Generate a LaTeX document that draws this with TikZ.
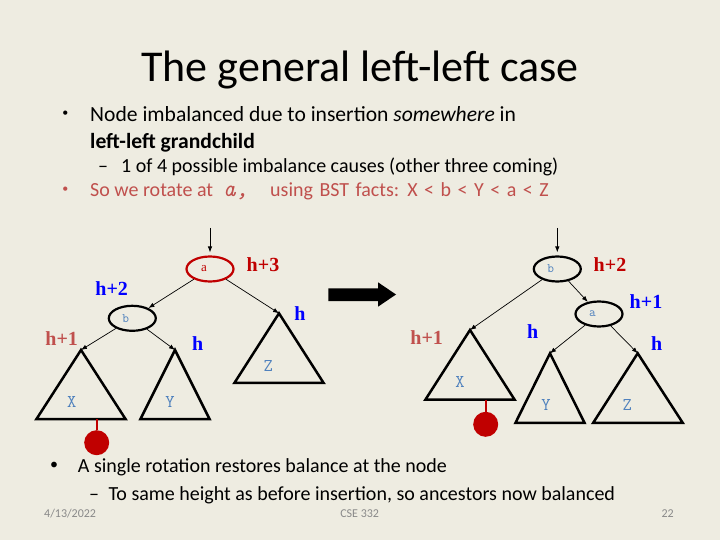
\documentclass[tikz,border=0pt]{standalone}
\usepackage{fontspec}
\setmainfont{Carlito}
\newfontfamily\hfont{Liberation Serif}
\usetikzlibrary{calc,positioning,shapes.geometric,arrows.meta}
\definecolor{slidebg}{RGB}{238,236,225}
\definecolor{darkred}{RGB}{192,0,0}
\definecolor{softred}{RGB}{192,80,77}
\definecolor{hblue}{RGB}{0,0,255}
\definecolor{keyblue}{RGB}{79,129,189}
\definecolor{footgray}{RGB}{137,137,137}

\begin{document}
\begin{tikzpicture}[x=1pt,y=-1pt,
  key/.style={draw, ellipse, line width=2.2pt, minimum width=47pt, minimum height=25pt, inner sep=0pt},
  keytext/.style={inner sep=0pt, text=keyblue, font=\ttfamily\fontsize{13}{13}\selectfont},
  leaf/.style={inner sep=0pt, text=keyblue, font=\ttfamily\fontsize{18}{18}\selectfont},
  tri/.style={line width=2.5pt},
  edge/.style={-{Latex[length=6pt,width=4.5pt]}, line width=0.7pt},
  ht/.style={inner sep=0pt, font=\hfont\bfseries\fontsize{20}{20}\selectfont},
  ins/.style={circle, fill=darkred, minimum size=25pt, inner sep=0pt},
  stem/.style={darkred, line width=2pt},
  body/.style={anchor=base west, inner sep=0pt, font=\fontsize{21.6}{26}\selectfont},
  sub/.style={anchor=base west, inner sep=0pt, font=\fontsize{20}{24}\selectfont},
  bullet/.style={inner sep=0pt, font=\fontsize{12}{12}\selectfont},
  foot/.style={inner sep=0pt, text=footgray, font=\fontsize{12}{12}\selectfont}]
\fill[slidebg] (0,0) rectangle (720,540);
\useasboundingbox (0,0) rectangle (720,540);

% Title and top bullets
\node[anchor=base, inner sep=0pt, font=\fontsize{44}{44}\selectfont] (title) at (360,81.7) {The general left-left case};
\node[bullet] (dot1) at (65.3,113.5) {•};
\node[body] (line1) at (90,121.7) {Node imbalanced due to insertion \textit{somewhere} in};
\node[body] (line2) at (90,148.3) {\textbf{left-left grandchild}};
\node[sub] (dash1) at (98,172.7) {–};
\node[sub] (line3) at (121,172.7) {1 of 4 possible imbalance causes (other three coming)};
\node[bullet, text=softred] (dot2) at (65.3,190) {•};
\node[sub, text=softred] (line4) at (90,196.7) {So we rotate at};
\node[sub, text=softred, font=\ttfamily\itshape\fontsize{24}{24}\selectfont] (line4a) at (223,196.7) {a,};
\node[sub, text=softred] (line4b) at (270,196.7) {\spaceskip=6.5pt\relax using BST facts: X < b < Y < a < Z};

% Left tree: before rotation
\coordinate (inL) at (210,228);
\node[key, draw=darkred] (aL) at (210,269) {};
\node[key] (bL) at (132.3,318.3) {};
\node[inner sep=0pt, text=darkred, font=\hfont\fontsize{13}{13}\selectfont] (aLt) at ([xshift=-6pt]aL) {a};
\node[keytext] (bLt) at ([xshift=-6.5pt]bL) {b};
\coordinate (XL) at (81,350);
\coordinate (YL) at (175,350);
\coordinate (ZL) at (279,313.3);
\draw[tri] (XL) -- ++(-44.5,69) -- ++(89,0) -- cycle;
\draw[tri] (YL) -- ++(-34.5,69) -- ++(69,0) -- cycle;
\draw[tri] (ZL) -- ++(-44.5,69.5) -- ++(89,0) -- cycle;
\node[leaf] (xL) at (71.7,401.7) {X};
\node[leaf] (yL) at (170,401.7) {Y};
\node[leaf] (zL) at (268.3,365.7) {Z};
\draw[edge, shorten >=3pt] (inL) -- (aL);
\draw[edge] (aL) -- (bL);
\draw[edge] (aL) -- (ZL);
\draw[edge] (bL) -- (XL);
\draw[edge] (bL) -- (YL);
\coordinate (XLbase) at (96.7,419);
\node[ins] (newL) at (96.7,442.7) {};
\draw[stem] (XLbase) -- (newL);
\node[ht, text=darkred] (hL1) at (263,265) {h+3};
\node[ht, text=hblue] (hL2) at (111.7,288.3) {h+2};
\node[ht, text=hblue] (hL3) at (300,313.3) {h};
\node[ht, text=softred] (hL4) at (61.7,338.3) {h+1};
\node[ht, text=hblue] (hL5) at (197.7,343.3) {h};

% Rotation arrow
\fill (328.3,288.3) -- (378,288.3) -- (378,282.3) -- (396,294.5) -- (378,306.7) -- (378,301) -- (328.3,301) -- cycle;

% Right tree: after rotation
\coordinate (inR) at (557.3,228);
\node[key] (bR) at (557.3,269) {};
\node[key] (aR) at (599,314) {};
\node[keytext] (bRt) at ([xshift=-6.5pt]bR) {b};
\node[keytext] (aRt) at ([xshift=-6.5pt]aR) {a};
\coordinate (XR) at (470,330);
\coordinate (YR) at (550,353.3);
\coordinate (ZR) at (637.7,353.3);
\draw[tri] (XR) -- ++(-44.5,69.5) -- ++(89,0) -- cycle;
\draw[tri] (YR) -- ++(-34.5,69.5) -- ++(69,0) -- cycle;
\draw[tri] (ZR) -- ++(-44.5,69.5) -- ++(89.5,0) -- cycle;
\node[leaf] (xR) at (460,381.7) {X};
\node[leaf] (yR) at (546,405) {Y};
\node[leaf] (zR) at (627.3,405) {Z};
\draw[edge, shorten >=3pt] (inR) -- (bR);
\draw[edge] (bR) -- (aR);
\draw[edge] (bR) -- (XR);
\draw[edge] (aR) -- (YR);
\draw[edge] (aR) -- (ZR);
\coordinate (XRbase) at (485.7,399.5);
\node[ins] (newR) at (485.7,424.3) {};
\draw[stem] (XRbase) -- (newR);
\node[ht, text=darkred] (hR1) at (610,265) {h+2};
\node[ht, text=hblue] (hR2) at (646,301.7) {h+1};
\node[ht, text=softred] (hR3) at (426.7,337.3) {h+1};
\node[ht, text=hblue] (hR4) at (532.7,331.7) {h};
\node[ht, text=hblue] (hR5) at (656.7,343.3) {h};

% Bottom bullets and footer
\node[bullet, font=\fontsize{16}{16}\selectfont] (dot3) at (54,465.7) {•};
\node[sub] (line5) at (77.7,472.7) {A single rotation restores balance at the node};
\node[sub] (dash2) at (89,500) {–};
\node[sub] (line6) at (108.3,500) {To same height as before insertion, so ancestors now balanced};
\node[foot, anchor=base west] (date) at (44,517.5) {4/13/2022};
\node[foot, anchor=base] (course) at (359.7,517.5) {CSE 332};
\node[foot, anchor=base east] (page) at (674,517.5) {22};
\end{tikzpicture}
\end{document}
